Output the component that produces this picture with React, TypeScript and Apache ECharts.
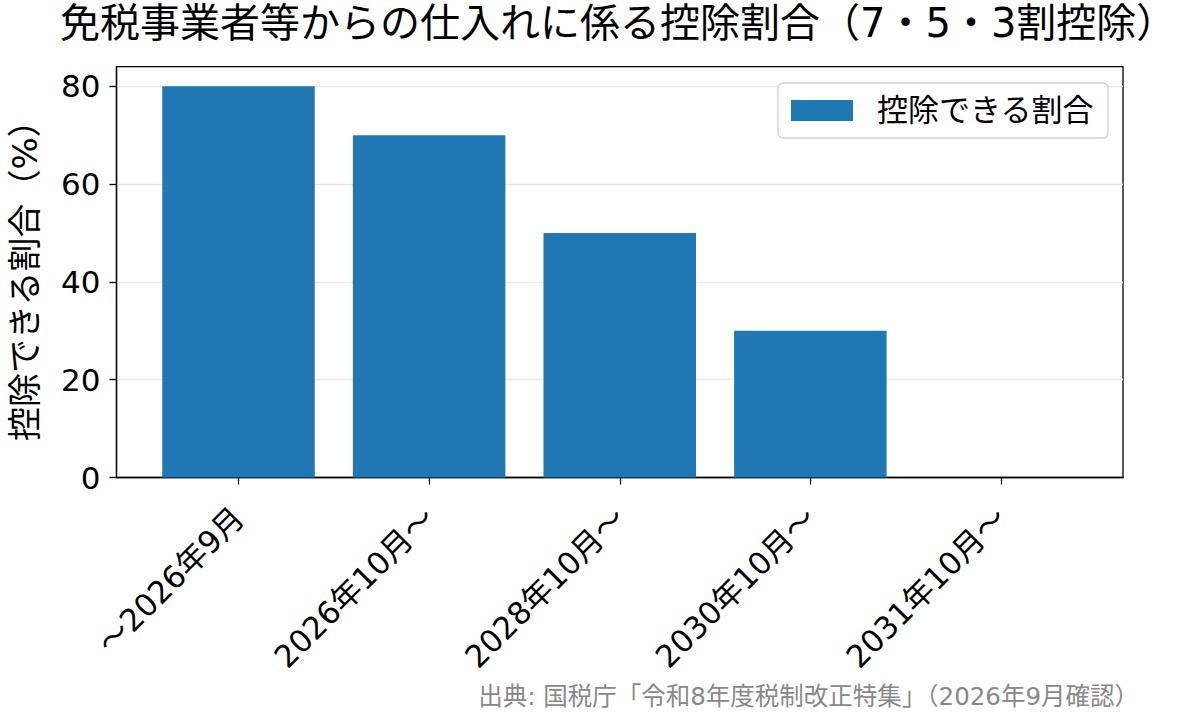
import React, { useEffect, useRef } from 'react';
import * as echarts from 'echarts';

const FONT = '"DejaVu Sans", "Noto Sans CJK JP", sans-serif';

const categories = ['〜2026年9月', '2026年10月〜', '2028年10月〜', '2030年10月〜', '2031年10月〜'];
const ratios = [80, 70, 50, 30, 0];
const yTicks = [0, 20, 40, 60, 80];

const titleText = '免税事業者等からの仕入れに係る控除割合（7・5・3割控除）';
const seriesName = '控除できる割合';
const yName = '控除できる割合（%）';
const sourceText = '出典: 国税庁「令和8年度税制改正特集」（2026年9月確認）';

export default function App() {
  const elRef = useRef<HTMLDivElement | null>(null);

  useEffect(() => {
    if (!elRef.current) return;
    const chart = echarts.init(elRef.current, null, { renderer: 'svg' });
    const xIdx = categories.map((_, i) => i);

    const opt: echarts.EChartsOption = {
      animation: false,
      textStyle: { fontFamily: FONT },
      title: [
        {
          text: titleText,
          left: 60,
          top: 3,
          padding: 0,
          textStyle: { fontFamily: FONT, fontSize: 40, fontWeight: 'normal', color: '#000' },
        },
        {
          text: sourceText,
          right: 54,
          bottom: 16,
          padding: 0,
          textStyle: { fontFamily: FONT, fontSize: 24.5, fontWeight: 'normal', color: '#888' },
        },
      ],
      grid: {
        left: 116.5,
        right: 70,
        top: 66.7,
        bottom: 247.5,
        show: true,
        borderColor: '#000',
        borderWidth: 1.3,
        outerBoundsMode: 'none',
      } as any,
      legend: {
        data: [seriesName],
        right: 85,
        top: 83,
        padding: [12, 14, 12, 13],
        itemWidth: 62,
        itemHeight: 21,
        itemGap: 0,
        icon: 'rect',
        borderColor: '#d0d0d0',
        borderWidth: 1.3,
        borderRadius: 5,
        backgroundColor: 'rgba(255,255,255,0.8)',
        textStyle: { fontFamily: FONT, fontSize: 31, color: '#000', padding: [0, 0, 0, 19] },
      },
      xAxis: {
        type: 'value',
        min: -0.64,
        max: 4.64,
        splitLine: { show: false },
        axisLine: { show: true, onZero: false, lineStyle: { color: '#000', width: 1.3 } },
        axisTick: { show: true, length: 7, customValues: xIdx, lineStyle: { color: '#000', width: 1.3 } } as any,
        axisLabel: {
          customValues: xIdx,
          rotate: 45,
          margin: 35,
          fontFamily: FONT,
          fontSize: 31,
          color: '#000',
          formatter: (v: number) => categories[Math.round(v)] ?? '',
        } as any,
      },
      yAxis: {
        type: 'value',
        min: 0,
        max: 84,
        interval: 20,
        name: yName,
        nameLocation: 'middle',
        nameGap: 75,
        nameTextStyle: { fontFamily: FONT, fontSize: 34, color: '#000' },
        axisLine: { show: true, onZero: false, lineStyle: { color: '#000', width: 1.3 } },
        axisTick: { show: true, length: 7, customValues: yTicks, lineStyle: { color: '#000', width: 1.3 } } as any,
        axisLabel: {
          customValues: yTicks,
          margin: 16,
          fontFamily: FONT,
          fontSize: 31,
          color: '#000',
        } as any,
        splitLine: { show: true, lineStyle: { color: '#e8e8e8', width: 1.3 } },
      },
      series: [
        {
          name: seriesName,
          type: 'bar',
          data: ratios.map((v, i) => [i, v]),
          barWidth: 152.5,
          itemStyle: { color: '#1f77b4' },
        },
      ],
    };

    chart.setOption(opt);
    return () => chart.dispose();
  }, []);

  return <div ref={elRef} style={{ position: 'fixed', left: 0, top: 0, width: 1193, height: 725, background: '#fff' }} />;
}
